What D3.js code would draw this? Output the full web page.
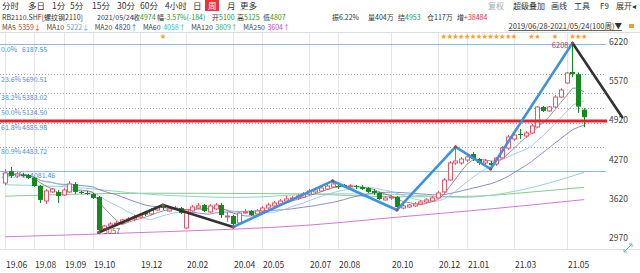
<!DOCTYPE html>
<html><head><meta charset="utf-8">
<script src="https://cdn.jsdelivr.net/npm/d3@7"></script>
<style>
body{margin:0;background:#fff;}
svg{display:block;font-family:"Noto Sans CJK SC","Noto Sans",sans-serif;}
</style></head><body>
<div id="chart"></div>
<script>
// weekly candles, RB2110.SHF, 2019/06/28 - 2021/05/24 (100 weeks)
const opens=[3880,4080,3997,4013,4013,3963,3830,3581,3731,3731,
3681,3731,3864,3731,3714,3697,3647,3115,3165,3198,
3215,3265,3281,3315,3381,3365,3431,3481,3415,3448,
3464,3132,3415,3464,3514,3398,3448,3514,3315,3331,
3215,3381,3415,3365,3415,3464,3498,3531,3581,3614,
3631,3647,3697,3731,3747,3780,3814,3830,3847,3814,
3830,3814,3797,3747,3714,3598,3631,3647,3464,3481,
3498,3531,3564,3581,3631,3731,3930,4213,4213,4263,
4363,4279,4213,4213,4196,4296,4462,4612,4695,4662,
4712,4811,5144,5078,5144,5310,5543,5726,5690,5100];
const closes=[4047,3997,4030,4005,3963,3830,3598,3747,3780,3664,
3764,3864,3731,3714,3697,3631,3099,3165,3198,3215,
3265,3281,3315,3348,3356,3431,3481,3464,3448,3464,
3381,3431,3481,3498,3415,3498,3514,3348,3331,3198,
3381,3398,3348,3415,3464,3514,3548,3581,3614,3631,
3664,3697,3747,3764,3797,3830,3864,3814,3814,3830,
3814,3780,3731,3714,3614,3631,3647,3481,3498,3514,
3531,3564,3598,3631,3714,3930,4213,4246,4279,4313,
4279,4213,4246,4180,4296,4462,4645,4678,4678,4712,
4828,5144,5078,5144,5310,5427,5709,5693,5150,4974];
const highs=[4113,4146,4063,4047,4030,3980,3847,3780,3797,3764,
3797,3914,3897,3747,3747,3714,3664,3182,3232,3248,
3281,3315,3348,3381,3415,3464,3498,3514,3464,3498,
3481,3448,3514,3548,3531,3531,3548,3548,3398,3348,
3398,3448,3431,3448,3498,3548,3581,3614,3664,3664,
3697,3731,3780,3797,3830,3864,3914,3864,3864,3864,
3847,3847,3814,3780,3731,3664,3681,3664,3531,3531,
3564,3598,3631,3664,3747,3963,4246,4479,4313,4346,
4396,4296,4279,4246,4313,4495,4678,4712,4778,4745,
4861,5161,5161,5161,5344,5460,5726,6208,5720,5125];
const lows=[3847,3963,3963,3980,3947,3814,3548,3531,3714,3548,
3664,3714,3697,3697,3681,3614,3057,3082,3132,3165,
3182,3232,3248,3281,3331,3348,3415,3431,3398,3431,
3365,3115,3398,3448,3398,3381,3431,3298,3232,3148,
3182,3365,3331,3348,3398,3448,3481,3514,3564,3581,
3598,3631,3681,3714,3731,3764,3797,3780,3797,3780,
3780,3764,3714,3681,3598,3581,3598,3431,3440,3464,
3481,3514,3548,3564,3614,3714,3914,4180,4180,4229,
4246,4180,4180,4113,4163,4279,4429,4578,4612,4628,
4695,4795,5061,5061,5128,5294,5527,5640,5045,4807];

const tickIdx=[0,5,10,15,23,31,39,44,52,57,66,74,79,87,96];
const tickLabels=["19.06","19.08","19.09","19.10","19.12","20.02","20.04","20.05","20.07","20.08","20.10","20.12","21.01","21.03","21.05"];
const priceTicks=[6220,5570,4920,4270,3620,2970];

const fibPct=["0.0%","23.6%","38.2%","50.0%","61.8%","80.9%","100.0%"];
const fibVal=[6187.55,5690.51,5383.02,5134.50,4885.98,4483.72,4081.46];
const userLine=4910;

// zigzag swing points (week index, price)
const zigIdx=[16,27,39,56,67,77,83,97,105.5];
const zigVal=[3057,3514,3148,3914,3431,4479,4113,6208,4975];
const zigDark=[true,true,false,false,false,false,false,true];

const starIdx=[27,75,76,77,78,79,80,81,82,83,84,85,86,87,90,91,94,97,98,99];

// long moving averages at sample weeks
const ma60Idx=[0,10,25,40,55,67,78,87,93,99];
const ma60Val=[3850,3820,3690,3640,3700,3690,3640,3740,3880,4058];
const ma120Idx=[0,25,50,67,80,90,99];
const ma120Val=[3660,3710,3700,3650,3660,3730,3809];
const ma250Idx=[0,26,52,68,81,99];
const ma250Val=[2985,3065,3180,3320,3430,3604];

const maNames=["MA5","MA10","MA20","MA60","MA120","MA250"];
const maLast=["5359↓","5222↓","4820↑","4058↑","3809↑","3604↑"];

const W=640,H=273;
const UP="#e8566a",DN="#138a1e",GRN="#1a9a2a",RED="#e0303a";
const maLabelColor=["#b03a48","#5aa0e0","#3a3aa8","#3cc0c0","#4cad4c","#d040d0"];
const maLineColor=["#8a7070","#92bfe8","#6e6ebc","#8fd6c6","#8cc98c","#d476dc"];

const svg=d3.select("#chart").append("svg").attr("width",W).attr("height",H);

const x=d3.scaleLinear().domain([0,99]).range([5,584.2]);
const y=d3.scaleLinear().domain([2970,6220]).range([237.7,42.3]);

// ---- header rows
const tabs=[["分时",2],["多日",28],["1分",52],["5分",70],["15分",92],["30分",117],["60分",140],["4小时",165],["日",193],["周",208],["月",227],["更多",240]];
svg.append("rect").attr("x",205).attr("y",0).attr("width",14).attr("height",11).attr("fill","#e8353a");
svg.selectAll("text.tab").data(tabs).enter().append("text")
  .attr("x",d=>d[1]).attr("y",8.5).attr("font-size",8.5)
  .attr("fill",d=>d[0]=="周"?"#fff":"#333").text(d=>d[0]);
const tools=[["复权",488,"#aaa"],["超级叠加",513,"#333"],["画线",551,"#333"],["工具",574,"#333"],["F9",600,"#333"],["展开◂",616,"#333"]];
svg.selectAll("text.tool").data(tools).enter().append("text")
  .attr("x",d=>d[1]).attr("y",8.5).attr("font-size",8).attr("fill",d=>d[2]).text(d=>d[0]);

const row2=[[2,[["RB2110.SHF[螺纹钢2110]","#333"]]],[97,[["2021/05/24","#333"]]],
 [133,[["收","#333"],["4974",GRN]]],[157,[["幅","#333"],["-3.57%(-184)",GRN]]],
 [212,[["开","#333"],["5100",GRN]]],[237,[["高","#333"],["5125",GRN]]],[263,[["低","#333"],["4807",GRN]]],
 [332,[["振","#333"],["6.22%","#333"]]],[368,[["量","#333"],["404万","#333"]]],
 [398,[["结","#333"],["4953",GRN]]],[427,[["仓","#333"],["117万","#333"]]],[457,[["增","#333"],["+38484",RED]]]];
row2.forEach(g=>{
  const t=svg.append("text").attr("x",g[0]).attr("y",19.5).attr("font-size",7);
  g[1].forEach(p=>t.append("tspan").attr("fill",p[1]).text(p[0]));
});

// MA legend: name then value, flowed so they never collide
let mx=2;
maNames.forEach((n,k)=>{
  const a=svg.append("text").attr("x",mx).attr("y",29.5).attr("font-size",7).attr("fill","#444").text(n);
  mx+=a.node().getComputedTextLength()+2.5;
  const b=svg.append("text").attr("x",mx).attr("y",29.5).attr("font-size",7).attr("fill",maLabelColor[k]).text(maLast[k]);
  mx+=b.node().getComputedTextLength()+5.5;
});
svg.append("text").attr("x",622).attr("y",29).attr("text-anchor","end").attr("font-size",7.5)
  .attr("fill","#333").attr("text-decoration","underline").text("2019/06/28-2021/05/24(100周)▼");
svg.append("rect").attr("x",629).attr("y",24).attr("width",5).attr("height",4).attr("fill","#f0a020");

svg.append("line").attr("x1",0).attr("x2",W).attr("y1",32.5).attr("y2",32.5).attr("stroke","#ddd");

// ---- grid
svg.selectAll("line.vg").data(tickIdx).enter().append("line")
  .attr("x1",d=>Math.round(x(d))+0.5).attr("x2",d=>Math.round(x(d))+0.5)
  .attr("y1",33).attr("y2",249).attr("stroke","#e6e6e6");
svg.append("line").attr("x1",0).attr("x2",W).attr("y1",249.5).attr("y2",249.5).attr("stroke","#e3e3e3");

svg.selectAll("text.xl").data(tickIdx).enter().append("text")
  .attr("x",d=>Math.round(x(d))+1).attr("y",268).attr("font-size",8.5).attr("fill","#333")
  .text((d,k)=>tickLabels[k]);

svg.selectAll("text.yl").data(priceTicks).enter().append("text")
  .attr("x",609).attr("y",d=>y(d)+3).attr("font-size",8.5).attr("fill","#444").text(d=>d);

// ---- fibonacci levels
fibVal.forEach((v,k)=>{
  const solid=(k==0||k==fibVal.length-1);
  svg.append("line").attr("x1",0).attr("x2",606).attr("y1",Math.round(y(v))+0.5).attr("y2",Math.round(y(v))+0.5)
    .attr("stroke",solid?"#8ab8e6":"#9aa6b4").attr("stroke-dasharray",solid?null:"1,2");
  svg.append("text").attr("x",1).attr("y",y(v)+7.5).attr("font-size",7).attr("fill","#4a8fd8").text(fibPct[k]);
  svg.append("text").attr("x",k==fibVal.length-1?30:22).attr("y",y(v)+7.5).attr("font-size",7).attr("fill","#4a8fd8").text(v.toFixed(2));
});

// ---- moving averages
const idx=d3.range(closes.length);
function sma(n){return idx.map(i=>d3.mean(closes.slice(Math.max(0,i-n+1),i+1)));}
const shortMA=[sma(5),sma(10),sma(20)];
const line=d3.line().x(d=>x(d[0])).y(d=>y(d[1]));
const smooth=d3.line().x(d=>x(d[0])).y(d=>y(d[1])).curve(d3.curveMonotoneX);
[[ma250Idx,ma250Val,5],[ma120Idx,ma120Val,4],[ma60Idx,ma60Val,3]].forEach(s=>{
  svg.append("path").attr("d",smooth(d3.zip(s[0],s[1]))).attr("fill","none")
    .attr("stroke",maLineColor[s[2]]).attr("stroke-width",1);
});
[2,1,0].forEach(k=>{
  svg.append("path").attr("d",line(idx.map(i=>[i,shortMA[k][i]]))).attr("fill","none")
    .attr("stroke",maLineColor[k]).attr("stroke-width",0.8);
});

// ---- candles
const cg=svg.append("g");
idx.forEach(i=>{
  const up=closes[i]>=opens[i];
  const col=up?UP:DN;
  const cx=Math.round(x(i))+0.5;
  cg.append("line").attr("x1",cx).attr("x2",cx).attr("y1",y(highs[i])).attr("y2",y(lows[i])).attr("stroke",col);
  const top=y(Math.max(opens[i],closes[i])),bot=y(Math.min(opens[i],closes[i]));
  if(up){
    cg.append("rect").attr("x",cx-2).attr("y",top).attr("width",4).attr("height",Math.max(1,bot-top))
      .attr("fill","#fff").attr("stroke",col).attr("stroke-width",1);
  }else{
    cg.append("rect").attr("x",cx-2.5).attr("y",top).attr("width",5).attr("height",Math.max(1,bot-top)).attr("fill",col);
  }
});

// ---- user horizontal line
svg.append("line").attr("x1",0).attr("x2",607).attr("y1",y(userLine)).attr("y2",y(userLine))
  .attr("stroke","#e8202a").attr("stroke-width",3);

// ---- zigzag
const zp=d3.zip(zigIdx,zigVal);
for(let k=0;k<zp.length-1;k++){
  svg.append("line").attr("x1",x(zp[k][0])).attr("y1",y(zp[k][1])).attr("x2",x(zp[k+1][0])).attr("y2",y(zp[k+1][1]))
    .attr("stroke",zigDark[k]?"#333":"#3c92e0").attr("stroke-width",2.6).attr("stroke-linecap","round");
}
svg.selectAll("circle.zz").data(zp.slice(0,-1)).enter().append("circle")
  .attr("cx",d=>x(d[0])).attr("cy",d=>y(d[1])).attr("r",1.6).attr("fill","#a0503a");
svg.append("text").attr("x",x(97)-4).attr("y",y(6208)+5).attr("text-anchor","end").attr("font-size",7.5)
  .attr("fill","#b04060").text("6208");
svg.append("text").attr("x",x(16)+5).attr("y",y(3057)+2).attr("font-size",7.5).attr("fill","#6a5a5a").text("3057");

// ---- event stars
svg.selectAll("text.star").data(starIdx).enter().append("text")
  .attr("x",d=>x(d)).attr("y",37.5).attr("text-anchor","middle").attr("font-size",6).attr("fill","#f2a21e").text("★");

// corner expand icon
const ic=svg.append("g").attr("stroke","#5cc0b0").attr("stroke-width",1).attr("fill","none");
ic.append("path").attr("d","M624,252 L632,244 M624,252 h3 M624,252 v-3 M632,244 h-3 M632,244 v3");
</script>
</body></html>
